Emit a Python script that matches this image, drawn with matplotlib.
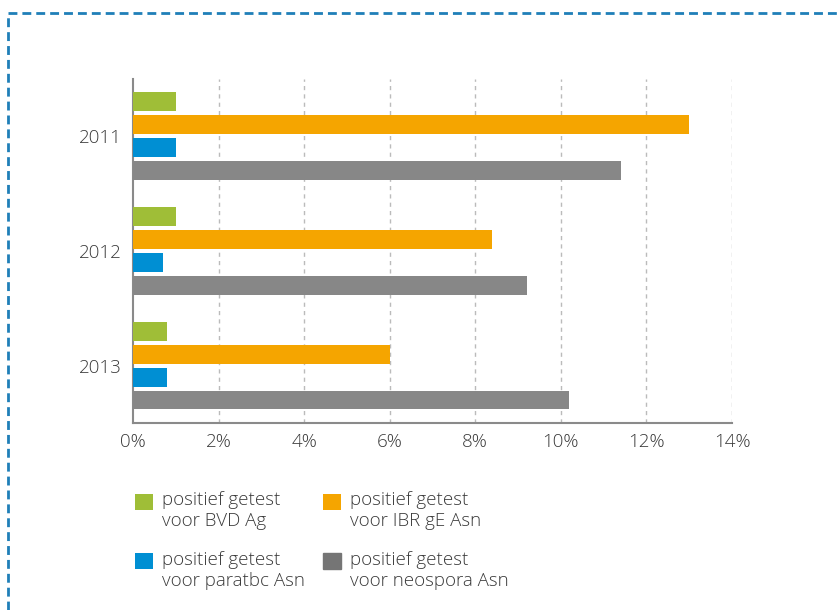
import numpy as np
import matplotlib.pyplot as plt
from matplotlib.lines import Line2D
from matplotlib.ticker import FuncFormatter

plt.rcParams['font.family'] = ['Open Sans', 'DejaVu Sans']
plt.rcParams['font.weight'] = 'light'

years = ['2011', '2012', '2013']
bvd = [1.0, 1.0, 0.8]
ibr = [13.0, 8.4, 6.0]
paratbc = [1.0, 0.7, 0.8]
neospora = [11.4, 9.2, 10.2]

labels = ['positief getest\nvoor BVD Ag', 'positief getest\nvoor IBR gE Asn',
          'positief getest\nvoor paratbc Asn', 'positief getest\nvoor neospora Asn']
colors = ['#9fbe37', '#f5a500', '#008fd3', '#878787']

fig = plt.figure(figsize=(8.39, 6.10), dpi=100)
ax = fig.add_axes([0.1585, 0.3066, 0.714, 0.564])

y = np.arange(len(years))
series = [bvd, ibr, paratbc, neospora]
offsets = [-0.3, -0.1, 0.1, 0.3]
bars = []
for vals, off, c in zip(series, offsets, colors):
    bars.append(ax.barh(y + off, vals, height=0.165, color=c, zorder=3))

ax.set_xlim(0, 14)
ax.set_ylim(2.5, -0.5)
ax.set_xticks(range(0, 15, 2))
ax.xaxis.set_major_formatter(FuncFormatter(lambda v, p: f'{v:.0f}%'))
ax.set_yticks(y)
ax.set_yticklabels(years)
ax.tick_params(length=0, labelsize=13.5, labelcolor='#3a3a3a')
ax.tick_params(axis='x', pad=7)
ax.tick_params(axis='y', pad=8)

for gx in range(2, 15, 2):
    ax.axvline(gx, color='#bbbbbb', linestyle=(0, (3, 3)), linewidth=1, zorder=1)

for s in ['top', 'right']:
    ax.spines[s].set_visible(False)
for s in ['left', 'bottom']:
    ax.spines[s].set_color('#8a8a8a')
    ax.spines[s].set_linewidth(1.5)

# legend: order so rows read green/orange, blue/gray
order = [0, 2, 1, 3]
leg = fig.legend([bars[i] for i in order], [labels[i] for i in order],
                 ncol=2, loc='upper left', bbox_to_anchor=(0.141, 0.222),
                 frameon=False, fontsize=13.5, handlelength=0.95, handleheight=0.95,
                 handletextpad=0.5, columnspacing=0.95, labelspacing=1.1,
                 labelcolor='#3a3a3a')
for h in leg.legend_handles:
    h.set_y(h.get_y() + 7)
leg.legend_handles[3].set_color('#757575')

# dashed frame
fig.add_artist(Line2D([0.0095, 1.0], [0.979, 0.979], color='#1f7fb8', lw=2,
                      linestyle=(0, (3.2, 1.8)), transform=fig.transFigure))
fig.add_artist(Line2D([0.0095, 0.0095], [0.0, 0.979], color='#1f7fb8', lw=2,
                      linestyle=(0, (3.2, 1.8)), transform=fig.transFigure))

fig.savefig('out.png', dpi=100)
